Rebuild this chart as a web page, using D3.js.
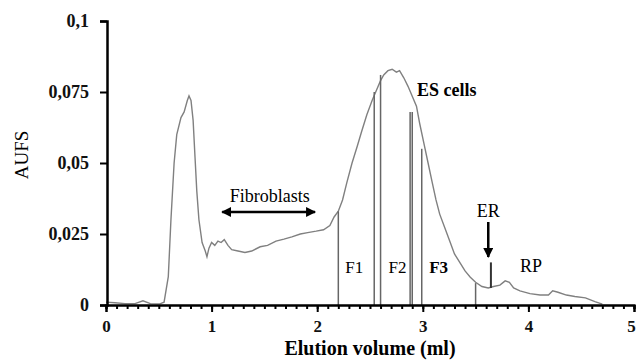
<!DOCTYPE html>
<html><head><meta charset="utf-8">
<script src="https://cdn.jsdelivr.net/npm/d3@7"></script>
<style>body{margin:0;background:#fff}svg{display:block}</style>
</head><body>
<svg id="c" width="637" height="360"></svg>
<script>
// Elution volume (ml) and absorbance (AUFS)
const volume = [0,0.085,0.18,0.275,0.35,0.42,0.51,0.55,0.59,0.615,0.645,0.67,0.71,0.74,0.77,0.786,0.805,0.825,0.843,0.86,0.88,0.91,0.94,0.956,0.975,1.0,1.03,1.06,1.09,1.12,1.155,1.19,1.25,1.316,1.38,1.46,1.53,1.61,1.685,1.76,1.84,1.91,1.99,2.06,2.12,2.16,2.2,2.24,2.28,2.33,2.38,2.42,2.47,2.52,2.56,2.6,2.63,2.67,2.71,2.75,2.78,2.82,2.86,2.9,2.94,2.97,3.01,3.05,3.09,3.125,3.16,3.21,3.26,3.3,3.35,3.4,3.45,3.5,3.56,3.62,3.67,3.73,3.78,3.82,3.86,3.92,4.015,4.11,4.19,4.23,4.28,4.36,4.44,4.54,4.63,4.7];
const aufs = [0.001,0.0008,0.0005,0.0005,0.0015,0.0005,0.0004,0.001,0.01,0.03,0.05,0.06,0.066,0.068,0.072,0.0736,0.072,0.065,0.052,0.04,0.03,0.022,0.019,0.017,0.02,0.022,0.021,0.0225,0.022,0.023,0.021,0.0195,0.019,0.0185,0.019,0.0205,0.021,0.0225,0.0232,0.024,0.025,0.0255,0.026,0.0265,0.028,0.031,0.033,0.037,0.043,0.05,0.056,0.061,0.067,0.072,0.0755,0.079,0.081,0.0825,0.083,0.082,0.0825,0.08,0.077,0.0735,0.07,0.064,0.057,0.05,0.043,0.037,0.032,0.027,0.022,0.018,0.015,0.012,0.0098,0.008,0.0065,0.006,0.0065,0.007,0.0085,0.008,0.006,0.005,0.004,0.0035,0.0035,0.005,0.0045,0.0035,0.003,0.0025,0.0012,0.0003];
// fraction boundary lines
const fracX = [2.2, 2.54, 2.6, 2.88, 2.9, 2.99, 3.5];
const fracTop = [0.033, 0.075, 0.081, 0.068, 0.068, 0.055, 0.0077];
const fracLabels = ["F1","F2","F3"];
const fracLabelX = [2.35, 2.76, 3.15];
const xTicks = [0,1,2,3,4,5];
const yTicks = [0,0.025,0.05,0.075,0.1];
const yTickLabels = ["0","0,025","0,05","0,075","0,1"];
const erX = 3.645, erBase = 0.006, erTop = 0.015;

const svg = d3.select("#c");
const x = d3.scaleLinear().domain([0,5]).range([106,634]);
const y = d3.scaleLinear().domain([0,0.1]).range([305,21]);
const serif = "'Liberation Serif','Times New Roman',serif";

// curve
const pts = volume.map((v,i)=>[v,aufs[i]]);
svg.append("path").datum(pts)
  .attr("fill","none").attr("stroke","#808080").attr("stroke-width",1.4)
  .attr("d", d3.line().x(d=>x(d[0])).y(d=>y(d[1])));

// fraction lines
svg.selectAll("line.frac").data(fracX).enter().append("line")
  .attr("x1",d=>x(d)).attr("x2",d=>x(d))
  .attr("y1",y(0)).attr("y2",(d,i)=>y(fracTop[i]))
  .attr("stroke","#666").attr("stroke-width",1.5);
// ER spike
svg.append("line").attr("x1",x(erX)).attr("x2",x(erX))
  .attr("y1",y(erBase)).attr("y2",y(erTop)).attr("stroke","#333").attr("stroke-width",2);

// axes
const gx = svg.append("g").attr("transform",`translate(0,${y(0)})`);
gx.call(d3.axisBottom(x).tickValues(d3.range(0,51).map(i=>i/10)).tickSize(4).tickFormat(""));
const gx2 = svg.append("g").attr("transform",`translate(0,${y(0)})`);
gx2.call(d3.axisBottom(x).tickValues(xTicks).tickSize(7).tickPadding(8).tickFormat(d3.format("d")));
[gx,gx2].forEach(g=>{
  g.select(".domain").attr("stroke","#000").attr("stroke-width",2);
  g.selectAll(".tick line").attr("stroke","#000").attr("stroke-width",2);
});
gx2.selectAll("text").attr("font-family",serif).attr("font-size",17).attr("font-weight","bold").attr("fill","#111")
  .attr("dx",d=>d===5?-3:0);

const gy = svg.append("g").attr("transform",`translate(107,0)`);
gy.call(d3.axisLeft(y).tickValues(yTicks).tickSize(7).tickPadding(11).tickFormat((d,i)=>yTickLabels[i]));
gy.select(".domain").attr("stroke","#000").attr("stroke-width",2.5);
gy.selectAll(".tick line").attr("stroke","#000").attr("stroke-width",2);
gy.selectAll("text").attr("font-family",serif).attr("font-size",18).attr("font-weight","bold").attr("fill","#111");

// axis titles
svg.append("text").attr("x",370).attr("y",355).attr("text-anchor","middle")
  .attr("font-family",serif).attr("font-size",20).attr("font-weight","bold").text("Elution volume (ml)");
svg.append("text").attr("transform",`translate(28,155) rotate(-90)`).attr("text-anchor","middle")
  .attr("font-family",serif).attr("font-size",19).text("AUFS");

// annotations
const defs = svg.append("defs");
defs.append("marker").attr("id","ah").attr("viewBox","0 0 10 10").attr("refX",9).attr("refY",5)
  .attr("markerWidth",4).attr("markerHeight",4).attr("orient","auto-start-reverse")
  .append("path").attr("d","M0,0L10,5L0,10z").attr("fill","#000");

svg.append("line").attr("x1",x(1.1)).attr("x2",x(1.98)).attr("y1",212).attr("y2",212)
  .attr("stroke","#000").attr("stroke-width",2.5)
  .attr("marker-start","url(#ah)").attr("marker-end","url(#ah)");
svg.append("text").attr("x",x(1.55)).attr("y",202).attr("text-anchor","middle")
  .attr("font-family",serif).attr("font-size",18).text("Fibroblasts");

svg.append("text").attr("x",417).attr("y",96)
  .attr("font-family",serif).attr("font-size",18).attr("font-weight","bold").text("ES cells");

svg.append("line").attr("x1",x(3.62)).attr("x2",x(3.62)).attr("y1",222).attr("y2",257)
  .attr("stroke","#000").attr("stroke-width",2.5).attr("marker-end","url(#ah)");
svg.append("text").attr("x",x(3.62)).attr("y",217).attr("text-anchor","middle")
  .attr("font-family",serif).attr("font-size",18).text("ER");
svg.append("text").attr("x",531).attr("y",272).attr("text-anchor","middle")
  .attr("font-family",serif).attr("font-size",18).text("RP");

svg.selectAll("text.fl").data(fracLabels).enter().append("text")
  .attr("x",(d,i)=>x(fracLabelX[i])).attr("y",273).attr("text-anchor","middle")
  .attr("font-family",serif).attr("font-size",17)
  .attr("font-weight",(d,i)=>i===2?"bold":"normal").text(d=>d);
</script>
</body></html>
